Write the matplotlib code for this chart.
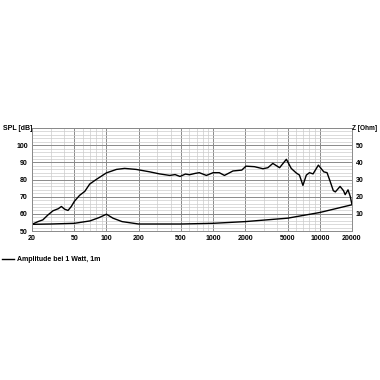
import numpy as np
import matplotlib.pyplot as plt
from matplotlib.ticker import FixedLocator, NullFormatter

plt.rcParams['font.family'] = ['Liberation Sans', 'DejaVu Sans']

# SPL curve (Hz, dB)
spl_f = [20, 22.8, 25.3, 28.3, 31.5, 35.3, 37.8, 40.6, 43.6, 46.8, 50, 56, 62.6,
         69.7, 80, 100, 124, 148, 190, 254, 314, 338, 392, 440, 489, 550, 600,
         680, 742, 865, 1000, 1142, 1277, 1535, 1856, 2033, 2440, 2935, 3260,
         3630, 4200, 4860, 5400, 6000, 6450, 6950, 7480, 8000, 8650, 9700,
         10900, 11700, 12500, 13400, 14000, 15500, 16700, 17300, 18400, 19300,
         20000]
spl_db = [53.9, 55.5, 56.5, 59.4, 61.8, 63.0, 64.3, 62.7, 62.0, 64.3, 67.3, 70.8,
          73.1, 77.4, 80.0, 83.9, 85.9, 86.5, 85.9, 84.5, 83.3, 83.0, 82.4, 82.9,
          81.8, 83.2, 82.8, 83.6, 84.0, 82.4, 84.0, 84.0, 82.4, 85.0, 85.5, 87.8,
          87.5, 86.3, 86.9, 89.4, 86.9, 91.8, 86.5, 83.9, 82.6, 76.6, 82.6, 84.0,
          83.3, 88.4, 84.5, 84.0, 79.0, 73.5, 72.8, 76.0, 73.5, 71.2, 74.0, 70.2,
          65.7]

# Impedance curve (Hz, Ohm)
imp_f = [20, 30, 50, 70, 85, 100, 115, 140, 200, 500, 1000, 2000, 5000, 10000, 20000]
imp_ohm = [3.9, 4.1, 4.5, 5.9, 7.8, 9.8, 7.5, 5.5, 4.1, 4.1, 4.5, 5.5, 7.5, 10.8, 15.3]

x_major = [20, 50, 100, 200, 500, 1000, 2000, 5000, 10000, 20000]
x_minor = [30, 40, 60, 70, 80, 90, 300, 400, 600, 700, 800, 900, 3000, 4000,
           6000, 7000, 8000, 9000]
db_ticks = [50, 60, 70, 80, 90, 100]
ohm_ticks = [10, 20, 30, 40, 50]

fig = plt.figure(figsize=(3.8, 3.8), dpi=100)
ax = fig.add_axes([0.084, 0.392, 0.842, 0.271])

ax.plot(spl_f, spl_db, color='black', lw=1.0)
ax.plot(imp_f, np.array(imp_ohm) + 50, color='black', lw=1.0)

ax.set_xscale('log')
ax.set_xlim(20, 20000)
ax.set_ylim(50, 110)

ax.xaxis.set_major_locator(FixedLocator(x_major))
ax.xaxis.set_minor_locator(FixedLocator(x_minor))
ax.xaxis.set_minor_formatter(NullFormatter())
ax.set_xticks(x_major)
ax.set_xticklabels([str(v) for v in x_major])
ax.yaxis.set_major_locator(FixedLocator(db_ticks + [110]))
ax.set_yticklabels([str(v) for v in db_ticks] + [''])
ax.yaxis.set_minor_locator(FixedLocator(list(range(50, 111, 2))))

ax.grid(which='major', color='#8a8a8a', lw=0.7)
ax.grid(which='minor', color='#cccccc', lw=0.5)
ax.tick_params(which='both', length=0, labelsize=5, pad=3)
for lab in ax.get_xticklabels() + ax.get_yticklabels():
    lab.set_fontweight('bold')
for sp in ax.spines.values():
    sp.set_color('#8a8a8a')
    sp.set_linewidth(0.7)

ax2 = ax.twinx()
ax2.set_ylim(0, 60)
ax2.set_yticks(ohm_ticks)
ax2.set_yticklabels([str(v) for v in ohm_ticks], fontweight='bold')
ax2.tick_params(length=0, labelsize=5, pad=3)
for sp in ax2.spines.values():
    sp.set_visible(False)

fig.text(0.008, 0.663, 'SPL [dB]', fontsize=5, fontweight='bold', va='center')
fig.text(0.927, 0.663, 'Z [Ohm]', fontsize=4.7, fontweight='bold', va='center')

fig.legend([ax.lines[0]], ['Amplitude bei 1 Watt, 1m'], loc='upper left',
           bbox_to_anchor=(-0.01, 0.342), frameon=False,
           handlelength=1.6, handletextpad=0.5,
           prop={'weight': 'bold', 'size': 5})

fig.savefig('out.png', dpi=100, facecolor='white')
